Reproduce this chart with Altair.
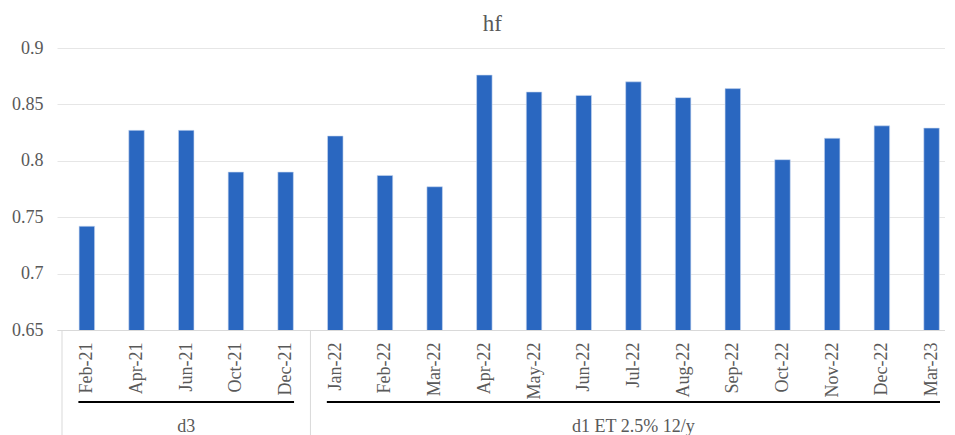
import json
import altair as alt
import pandas as pd

months = ["Feb-21", "Apr-21", "Jun-21", "Oct-21", "Dec-21",
          "Jan-22", "Feb-22", "Mar-22", "Apr-22", "May-22", "Jun-22",
          "Jul-22", "Aug-22", "Sep-22", "Oct-22", "Nov-22", "Dec-22", "Mar-23"]
values = [0.742, 0.827, 0.827, 0.790, 0.790,
          0.822, 0.787, 0.777, 0.876, 0.861, 0.858,
          0.870, 0.856, 0.864, 0.801, 0.820, 0.831, 0.829]
group_names = ["d3", "d1 ET 2.5% 12/y"]
group_start = [0, 5]
group_end = [4, 17]
y_ticks = [0.65, 0.7, 0.75, 0.8, 0.85, 0.9]

FONT = "Liberation Serif"
GREY = "#595959"
W, H = 888, 282

bars_df = pd.DataFrame({"idx": list(range(len(months))), "month": months, "value": values})
groups_df = pd.DataFrame({
    "group": group_names,
    "start": group_start,
    "end": group_end,
})
groups_df["lo"] = groups_df["start"] - 0.17
groups_df["hi"] = groups_df["end"] + 0.17
groups_df["mid"] = (groups_df["start"] + groups_df["end"]) / 2
sep_df = pd.DataFrame({"pos": [s - 0.5 for s in group_start]})

xscale = alt.Scale(domain=[-0.5, len(months) - 0.83], nice=False, zero=False)
label_expr = json.dumps(months) + "[datum.value]"

bars = alt.Chart(bars_df).mark_bar(size=15.5, color="#2A67C0", stroke="#c9d8f0", strokeWidth=0.6,
                                   clip=True).encode(
    x=alt.X("idx:Q", scale=xscale,
            axis=alt.Axis(values=list(range(len(months))), labelExpr=label_expr, labelAngle=-90,
                          title=None, ticks=False, grid=False, domain=True, domainColor="#d9d9d9",
                          labelFont=FONT, labelFontSize=18, labelColor=GREY, labelPadding=12,
                          labelBaseline="middle", labelAlign="right")),
    y=alt.Y("value:Q", scale=alt.Scale(domain=[0.65, 0.9], nice=False, zero=False),
            axis=alt.Axis(values=y_ticks, format=".2~f", title=None, ticks=False, domain=False,
                          gridColor="#e6e6e6", labelFont=FONT, labelFontSize=18, labelColor=GREY,
                          labelPadding=14)),
)

seps = alt.Chart(sep_df).mark_rule(color="#d9d9d9", strokeWidth=1).encode(
    x=alt.X("pos:Q", scale=xscale),
    y=alt.value(H),
    y2=alt.value(H + 115),
)

underline = alt.Chart(groups_df).mark_rule(color="#000000", strokeWidth=2).encode(
    x=alt.X("lo:Q", scale=xscale),
    x2="hi:Q",
    y=alt.value(H + 72),
)

glabels = alt.Chart(groups_df).mark_text(font=FONT, fontSize=18, color=GREY, baseline="middle").encode(
    x=alt.X("mid:Q", scale=xscale),
    y=alt.value(H + 97),
    text="group:N",
)

chart = alt.layer(bars, seps, underline, glabels).properties(
    width=W, height=H,
    padding={"left": 3, "right": 0, "top": 5, "bottom": 0},
    title=alt.TitleParams("hf", font=FONT, fontSize=23, color=GREY, fontWeight="normal",
                          anchor="middle", frame="bounds", offset=3, dx=14),
).configure_view(stroke=None)

chart.save("out.html", embed_options={"renderer": "svg", "actions": False})
